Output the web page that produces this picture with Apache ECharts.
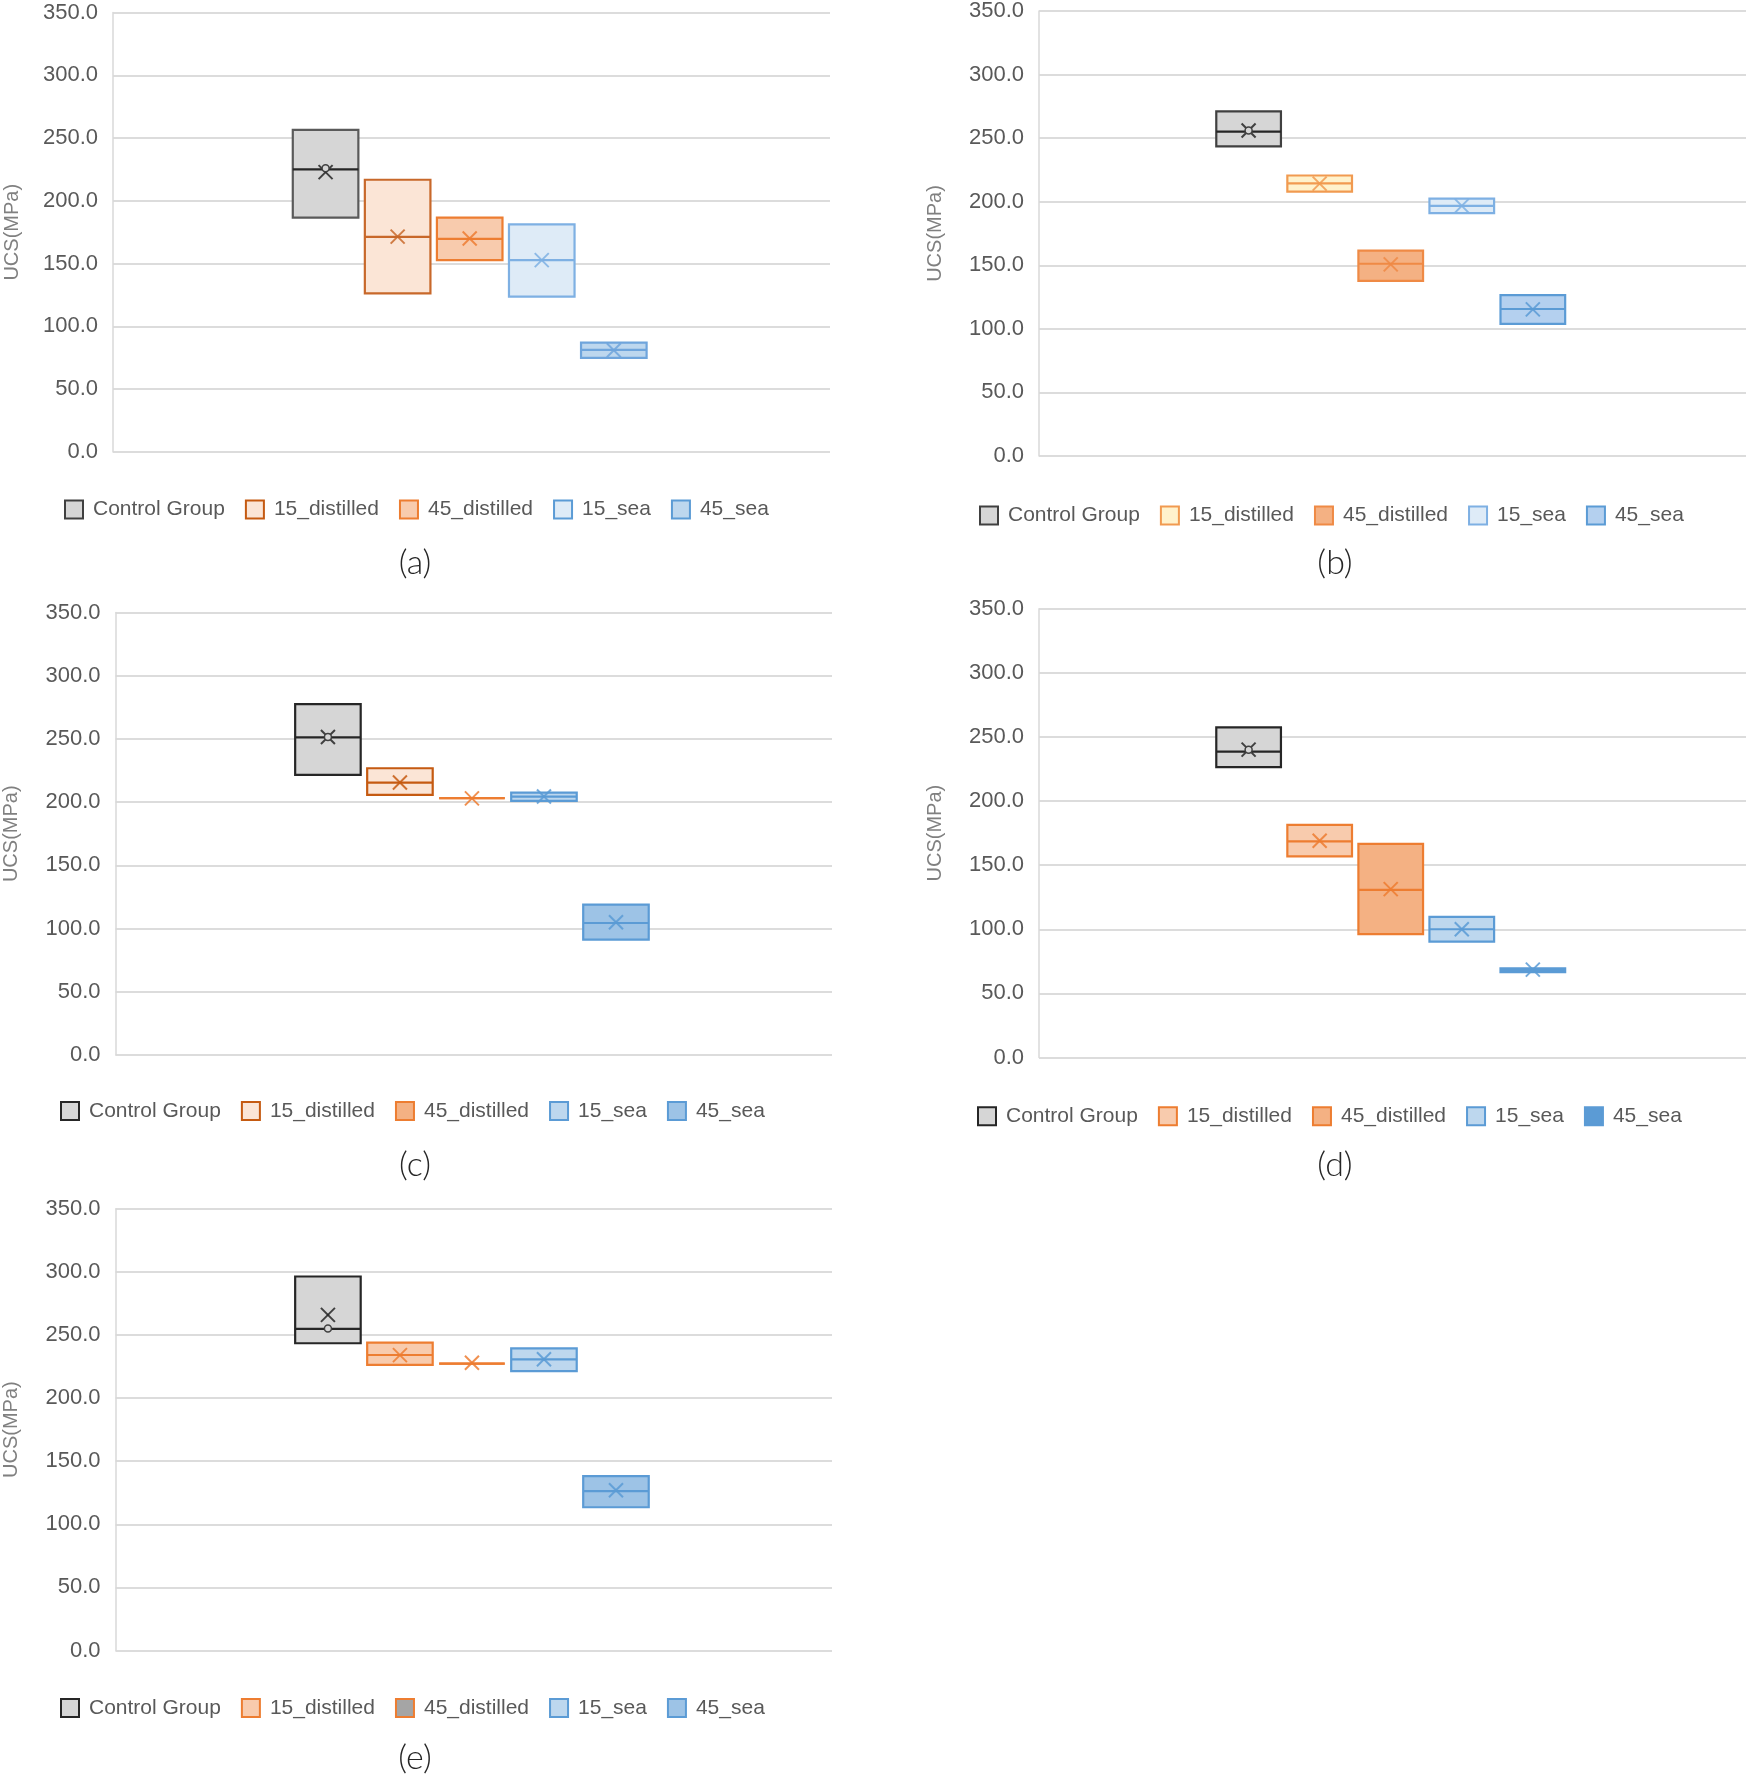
<!DOCTYPE html>
<html><head><meta charset="utf-8">
<script src="https://cdn.jsdelivr.net/npm/echarts@6/dist/echarts.min.js"></script>
<style>html,body{margin:0;padding:0;background:#fff}#c{width:1749px;height:1777px}</style>
</head><body><div id="c"></div>
<script>
// ---------- data ----------
const groups = ['Control Group', '15_distilled', '45_distilled', '15_sea', '45_sea'];
const yTicks = [0, 50, 100, 150, 200, 250, 300, 350];
const panelLabels = ['(a)', '(b)', '(c)', '(d)', '(e)'];

// (a)
const aQ1     = [186.7, 126.3, 152.8, 123.7, 75.0];
const aMedian = [225.0, 171.3, 169.7, 152.8, 81.3];
const aQ3     = [256.5, 216.8, 186.7, 181.3, 87.1];
const aMean   = [222.9, 171.5, 170.0, 152.8, 81.0];
// (b)
const bQ1     = [243.5, 207.9, 137.7, 191.0, 103.9];
const bMedian = [255.2, 214.4, 151.2, 196.7, 115.6];
const bQ3     = [271.0, 220.6, 161.6, 202.4, 126.5];
const bMean   = [256.0, 214.2, 150.7, 196.7, 115.3];
// (c)
const cQ1     = [221.6, 205.8, 203.2, 201.0, 91.2];
const cMedian = [251.3, 215.5, 203.2, 204.4, 104.4];
const cQ3     = [277.6, 226.8, 203.2, 207.6, 118.9];
const cMean   = [251.5, 215.5, 203.0, 204.4, 105.0];
// (d)
const dQ1     = [226.5, 156.9, 96.2, 90.4, 66.5];
const dMedian = [238.6, 168.6, 130.8, 100.0, 68.0];
const dQ3     = [257.4, 181.4, 166.6, 109.7, 69.5];
const dMean   = [240.1, 169.0, 131.3, 100.0, 68.5];
// (e)
const eQ1     = [243.4, 226.2, 227.2, 221.4, 113.5];
const eMedian = [254.8, 234.1, 227.2, 230.7, 126.2];
const eQ3     = [296.3, 243.9, 227.2, 239.4, 138.2];
const eMean   = [265.9, 234.0, 228.0, 230.7, 127.0];
// inner data point visible in the Control Group box of each panel
const controlInnerPoint = [226.0, 256.0, 251.5, 240.0, 255.0];

const panels = [
  {q1: aQ1, med: aMedian, q3: aQ3, mean: aMean},
  {q1: bQ1, med: bMedian, q3: bQ3, mean: bMean},
  {q1: cQ1, med: cMedian, q3: cQ3, mean: cMean},
  {q1: dQ1, med: dMedian, q3: dQ3, mean: dMean},
  {q1: eQ1, med: eMedian, q3: eQ3, mean: eMean}
];

// ---------- layout & style ----------
const layout = [
  {grid: {left: 113,  top: 12.5,  width: 717, height: 439.5}, legendLeft: 64,  legendCy: 510,   nameGap: 91, label: [415, 563]},
  {grid: {left: 1039, top: 9,     width: 707, height: 447},   legendLeft: 979, legendCy: 516,   nameGap: 94, label: [1335, 563]},
  {grid: {left: 115.5,top: 612.5, width: 716.5, height: 442.5}, legendLeft: 60, legendCy: 1111.5, nameGap: 94, label: [415, 1165]},
  {grid: {left: 1039, top: 608.7, width: 707, height: 448.8}, legendLeft: 977, legendCy: 1116.7, nameGap: 94, label: [1335, 1165]},
  {grid: {left: 115.5,top: 1208.7,width: 716.5, height: 441.8}, legendLeft: 60, legendCy: 1708.5, nameGap: 94, label: [415, 1758]}
];
const ctrl = (b) => ({fill: '#d6d6d6', border: b, median: '#262626', mark: '#262626'});
const palettes = [
  [ctrl('#5a5a5a'), {fill: '#fbe5d6', border: '#c8682a'}, {fill: '#f8cbad', border: '#ed7d31'}, {fill: '#deebf7', border: '#7eb0e3'}, {fill: '#bdd7ee', border: '#6fa5dc'}],
  [ctrl('#404040'), {fill: '#fff2cc', border: '#f19a50'}, {fill: '#f4b183', border: '#ef8a45'}, {fill: '#deebf7', border: '#7eb0e3'}, {fill: '#b4d0ef', border: '#5b9bd5'}],
  [ctrl('#262626'), {fill: '#fbe5d6', border: '#c55a11'}, {fill: '#f4b183', border: '#ed7d31'}, {fill: '#bdd7ee', border: '#5b9bd5'}, {fill: '#9dc3e6', border: '#5b9bd5'}],
  [ctrl('#262626'), {fill: '#f8cbad', border: '#ed7d31'}, {fill: '#f4b183', border: '#ed7d31'}, {fill: '#bdd7ee', border: '#5b9bd5'}, {fill: '#5b9bd5', border: '#5b9bd5'}],
  [ctrl('#262626'), {fill: '#f8cbad', border: '#ed7d31'}, {fill: '#a5a5a5', border: '#ed7d31'}, {fill: '#bdd7ee', border: '#5b9bd5'}, {fill: '#9dc3e6', border: '#5b9bd5'}]
];
const legendPalettes = [
  [ctrl('#404040'), {fill: '#fbe5d6', border: '#c55a11'}, {fill: '#f8cbad', border: '#ed7d31'}, {fill: '#deebf7', border: '#5b9bd5'}, {fill: '#bdd7ee', border: '#5b9bd5'}],
  palettes[1], palettes[2], palettes[3], palettes[4]
];
const FONT = "'Liberation Sans', Arial, sans-serif";

const grids = [], xAxes = [], yAxes = [], legends = [], series = [], graphics = [];
layout.forEach((L, p) => {
  grids.push(Object.assign({containLabel: false}, L.grid));
  xAxes.push({type: 'value', gridIndex: p, min: 0.05, max: 10, show: false});
  yAxes.push({
    type: 'value', gridIndex: p, min: yTicks[0], max: yTicks[yTicks.length - 1], interval: 50,
    name: 'UCS(MPa)', nameLocation: 'middle', nameGap: L.nameGap,
    nameTextStyle: {fontFamily: FONT, fontSize: 20, color: '#808080'},
    axisLine: {show: true, lineStyle: {color: '#d9d9d9', width: 1.5}},
    axisTick: {show: false},
    axisLabel: {fontFamily: FONT, fontSize: 22, color: '#595959', margin: 15, formatter: v => v.toFixed(1)},
    splitLine: {show: true, lineStyle: {color: '#dcdcdc', width: 2}}
  });
  legends.push({
    left: L.legendLeft, top: L.legendCy - 11, padding: 0, orient: 'horizontal',
    itemWidth: 18, itemHeight: 18, itemGap: 20, icon: 'rect', selectedMode: false,
    textStyle: {fontFamily: FONT, fontSize: 21, color: '#595959', padding: [0, 0, 0, 5]},
    data: groups.map((g, i) => ({name: g, itemStyle: {color: legendPalettes[p][i].fill, borderColor: legendPalettes[p][i].border, borderWidth: 2}}))
  });
  graphics.push({
    type: 'text', x: L.label[0], y: L.label[1], silent: true,
    style: {text: panelLabels[p], fontFamily: "Lato, 'Open Sans', sans-serif", fontWeight: 300, fontSize: 34, fill: '#262626', align: 'center', verticalAlign: 'middle'}
  });
  const P = panels[p];
  groups.forEach((g, gi) => {
    const pal = palettes[p][gi];
    const inner = gi === 0 ? controlInnerPoint[p] : null;
    series.push({
      type: 'custom', name: g, xAxisIndex: p, yAxisIndex: p, silent: true,
      itemStyle: {color: pal.fill, borderColor: pal.border, borderWidth: 2},
      encode: {x: 0, y: [1, 2, 3, 4]},
      data: [[gi + 3, P.q1[gi], P.med[gi], P.q3[gi], P.mean[gi], inner]],
      renderItem: function (params, api) {
        const xv = api.value(0);
        const lo = api.coord([xv, api.value(1)]);
        const md = api.coord([xv, api.value(2)]);
        const hi = api.coord([xv, api.value(3)]);
        const mn = api.coord([xv, api.value(4)]);
        const w = api.size([0.91, 0])[0];
        const x0 = lo[0] - w / 2;
        const s = 7;
        const markColor = pal.mark || pal.border;
        const children = [
          {type: 'rect', shape: {x: x0, y: hi[1], width: w, height: lo[1] - hi[1]},
           style: {fill: pal.fill, stroke: pal.border, lineWidth: 2.2}},
          {type: 'line', shape: {x1: x0, y1: md[1], x2: x0 + w, y2: md[1]},
           style: {stroke: pal.median || pal.border, lineWidth: 2.2}},
          {type: 'line', shape: {x1: mn[0] - s, y1: mn[1] - s, x2: mn[0] + s, y2: mn[1] + s},
           style: {stroke: markColor, lineWidth: 2, opacity: 0.85}},
          {type: 'line', shape: {x1: mn[0] - s, y1: mn[1] + s, x2: mn[0] + s, y2: mn[1] - s},
           style: {stroke: markColor, lineWidth: 2, opacity: 0.85}}
        ];
        const iv = api.value(5);
        if (iv != null && !isNaN(iv)) {
          const ip = api.coord([xv, iv]);
          children.push({type: 'circle', shape: {cx: ip[0], cy: ip[1], r: 3.5},
            style: {fill: pal.fill, stroke: '#404040', lineWidth: 1.5}});
        }
        return {type: 'group', children: children};
      }
    });
  });
});

const chart = echarts.init(document.getElementById('c'), null, {renderer: 'canvas'});
chart.setOption({
  backgroundColor: '#ffffff',
  animation: false,
  grid: grids, xAxis: xAxes, yAxis: yAxes, legend: legends, series: series,
  graphic: graphics
});
</script></body></html>
